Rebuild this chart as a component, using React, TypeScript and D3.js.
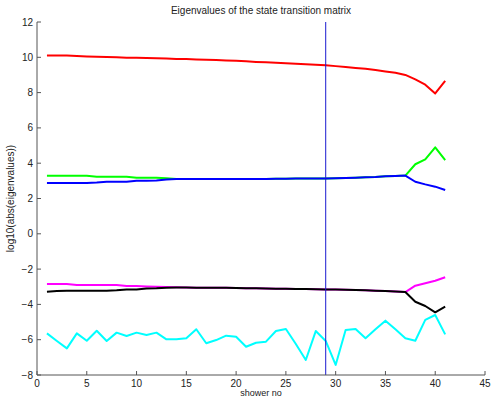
import React from "react";
import * as d3 from "d3";

const width = 491;
const height = 398;
const margin = { top: 22, right: 6, bottom: 23, left: 37 };

// shower numbers
const showers = [
  1, 2, 3, 4, 5, 6, 7, 8, 9, 10, 11, 12, 13, 14, 15, 16, 17, 18, 19, 20, 21,
  22, 23, 24, 25, 26, 27, 28, 29, 30, 31, 32, 33, 34, 35, 36, 37, 38, 39, 40, 41,
];

// log10(abs(eigenvalues)) per shower, one array per eigenvalue
const eigRed = [
  10.1, 10.1, 10.1, 10.08, 10.05, 10.03, 10.02, 10.0, 9.98, 9.97, 9.96, 9.95,
  9.93, 9.91, 9.9, 9.88, 9.86, 9.84, 9.82, 9.8, 9.77, 9.74, 9.72, 9.69, 9.66,
  9.63, 9.61, 9.58, 9.55, 9.5, 9.45, 9.4, 9.35, 9.28, 9.2, 9.12, 9.0, 8.75,
  8.45, 7.95, 8.67,
];
const eigGreen = [
  3.29, 3.29, 3.29, 3.29, 3.29, 3.23, 3.23, 3.23, 3.23, 3.18, 3.18, 3.18, 3.15,
  3.1, 3.1, 3.1, 3.1, 3.1, 3.1, 3.1, 3.1, 3.11, 3.11, 3.12, 3.12, 3.13, 3.13,
  3.14, 3.14, 3.15, 3.16, 3.18, 3.2, 3.22, 3.26, 3.28, 3.3, 3.94, 4.22, 4.9,
  4.18,
];
const eigBlue = [
  2.88, 2.88, 2.88, 2.88, 2.88, 2.9, 2.95, 2.95, 2.95, 3.0, 3.0, 3.02, 3.07,
  3.1, 3.1, 3.1, 3.1, 3.1, 3.1, 3.1, 3.1, 3.11, 3.11, 3.12, 3.12, 3.13, 3.13,
  3.14, 3.14, 3.15, 3.16, 3.18, 3.2, 3.22, 3.26, 3.28, 3.3, 2.95, 2.8, 2.67,
  2.48,
];
const eigMagenta = [
  -2.84, -2.84, -2.84, -2.9, -2.9, -2.9, -2.9, -2.9, -2.96, -2.96, -2.98, -3.0,
  -3.02, -3.03, -3.04, -3.05, -3.05, -3.06, -3.06, -3.07, -3.08, -3.09, -3.1,
  -3.11, -3.12, -3.13, -3.13, -3.14, -3.15, -3.16, -3.17, -3.18, -3.2, -3.22,
  -3.24, -3.27, -3.3, -2.94, -2.8, -2.66, -2.46,
];
const eigBlack = [
  -3.28, -3.24, -3.22, -3.22, -3.22, -3.22, -3.22, -3.2, -3.15, -3.15, -3.1,
  -3.09, -3.06, -3.04, -3.04, -3.05, -3.05, -3.06, -3.06, -3.07, -3.08, -3.09,
  -3.1, -3.11, -3.12, -3.13, -3.13, -3.14, -3.15, -3.16, -3.17, -3.18, -3.2,
  -3.22, -3.24, -3.27, -3.3, -3.85, -4.09, -4.45, -4.13,
];
const eigCyan = [
  -5.64, -6.07, -6.49, -5.64, -6.06, -5.49, -6.07, -5.6, -5.79, -5.6, -5.73,
  -5.6, -5.98, -5.98, -5.92, -5.41, -6.2, -6.02, -5.77, -5.83, -6.4, -6.17,
  -6.11, -5.51, -5.39, -6.24, -7.15, -5.51, -6.07, -7.43, -5.45, -5.39, -5.92,
  -5.41, -4.92, -5.41, -5.92, -6.06, -4.88, -4.6, -5.7,
];

const series = [
  { values: eigRed, color: "#ff0000" },
  { values: eigGreen, color: "#00ff00" },
  { values: eigBlue, color: "#0000ff" },
  { values: eigMagenta, color: "#ff00ff" },
  { values: eigBlack, color: "#000000" },
  { values: eigCyan, color: "#00ffff" },
];

const xTicks = [0, 5, 10, 15, 20, 25, 30, 35, 40, 45];
const yTicks = [-8, -6, -4, -2, 0, 2, 4, 6, 8, 10, 12];
const markerShower = 29;

const title = "Eigenvalues of the state transition matrix";
const xLabel = "shower no";
const yLabel = "log10(abs(eigenvalues))";

const font = "'Liberation Sans', Arial, Helvetica, sans-serif";
const axisColor = "#555555";

export default function App() {
  const x = d3
    .scaleLinear()
    .domain([0, 45])
    .range([margin.left, width - margin.right]);
  const y = d3
    .scaleLinear()
    .domain([-8, 12])
    .range([height - margin.bottom, margin.top]);

  const line = d3
    .line<number>()
    .x((d, i) => x(showers[i]))
    .y((d) => y(d));

  const x0 = x(0);
  const y0 = y(-8);

  return (
    <svg
      width={width}
      height={height}
      style={{ position: "absolute", left: 0, top: 0, background: "#fff" }}
      fontFamily={font}
    >
      <rect width={width} height={height} fill="#fff" />

      {series.map((s, i) => (
        <path
          key={i}
          d={line(s.values) || ""}
          fill="none"
          stroke={s.color}
          strokeWidth={2}
          strokeLinejoin="round"
        />
      ))}

      {/* marker at the selected shower */}
      <line
        x1={x(markerShower)}
        x2={x(markerShower)}
        y1={y(12)}
        y2={y(-8)}
        stroke="#1a1ad0"
        strokeWidth={1}
      />

      {/* axes */}
      <line x1={x0} x2={x0} y1={y(12)} y2={y0} stroke={axisColor} strokeWidth={1} />
      <line x1={x0} x2={x(45)} y1={y0} y2={y0} stroke={axisColor} strokeWidth={1} />

      {yTicks.map((t) => (
        <g key={"y" + t}>
          <line x1={x0} x2={x0 + 4} y1={y(t)} y2={y(t)} stroke={axisColor} />
          <text
            x={x0 - 4}
            y={y(t)}
            dy="0.35em"
            textAnchor="end"
            fontSize={10}
            fill="#222"
          >
            {t < 0 ? "\u2212" + Math.abs(t) : t}
          </text>
        </g>
      ))}

      {xTicks.map((t) => (
        <g key={"x" + t}>
          <line x1={x(t)} x2={x(t)} y1={y0} y2={y0 - 4} stroke={axisColor} />
          <text
            x={x(t)}
            y={y0 + 12}
            textAnchor="middle"
            fontSize={10}
            fill="#222"
          >
            {t}
          </text>
        </g>
      ))}

      <text
        x={(x0 + x(45)) / 2}
        y={14}
        textAnchor="middle"
        fontSize={10}
        fill="#222"
      >
        {title}
      </text>
      <text
        x={(x0 + x(45)) / 2}
        y={396}
        textAnchor="middle"
        fontSize={9}
        fill="#222"
      >
        {xLabel}
      </text>
      <text
        transform={`translate(14,${(y(12) + y0) / 2}) rotate(-90)`}
        textAnchor="middle"
        fontSize={10}
        fill="#222"
      >
        {yLabel}
      </text>
    </svg>
  );
}
